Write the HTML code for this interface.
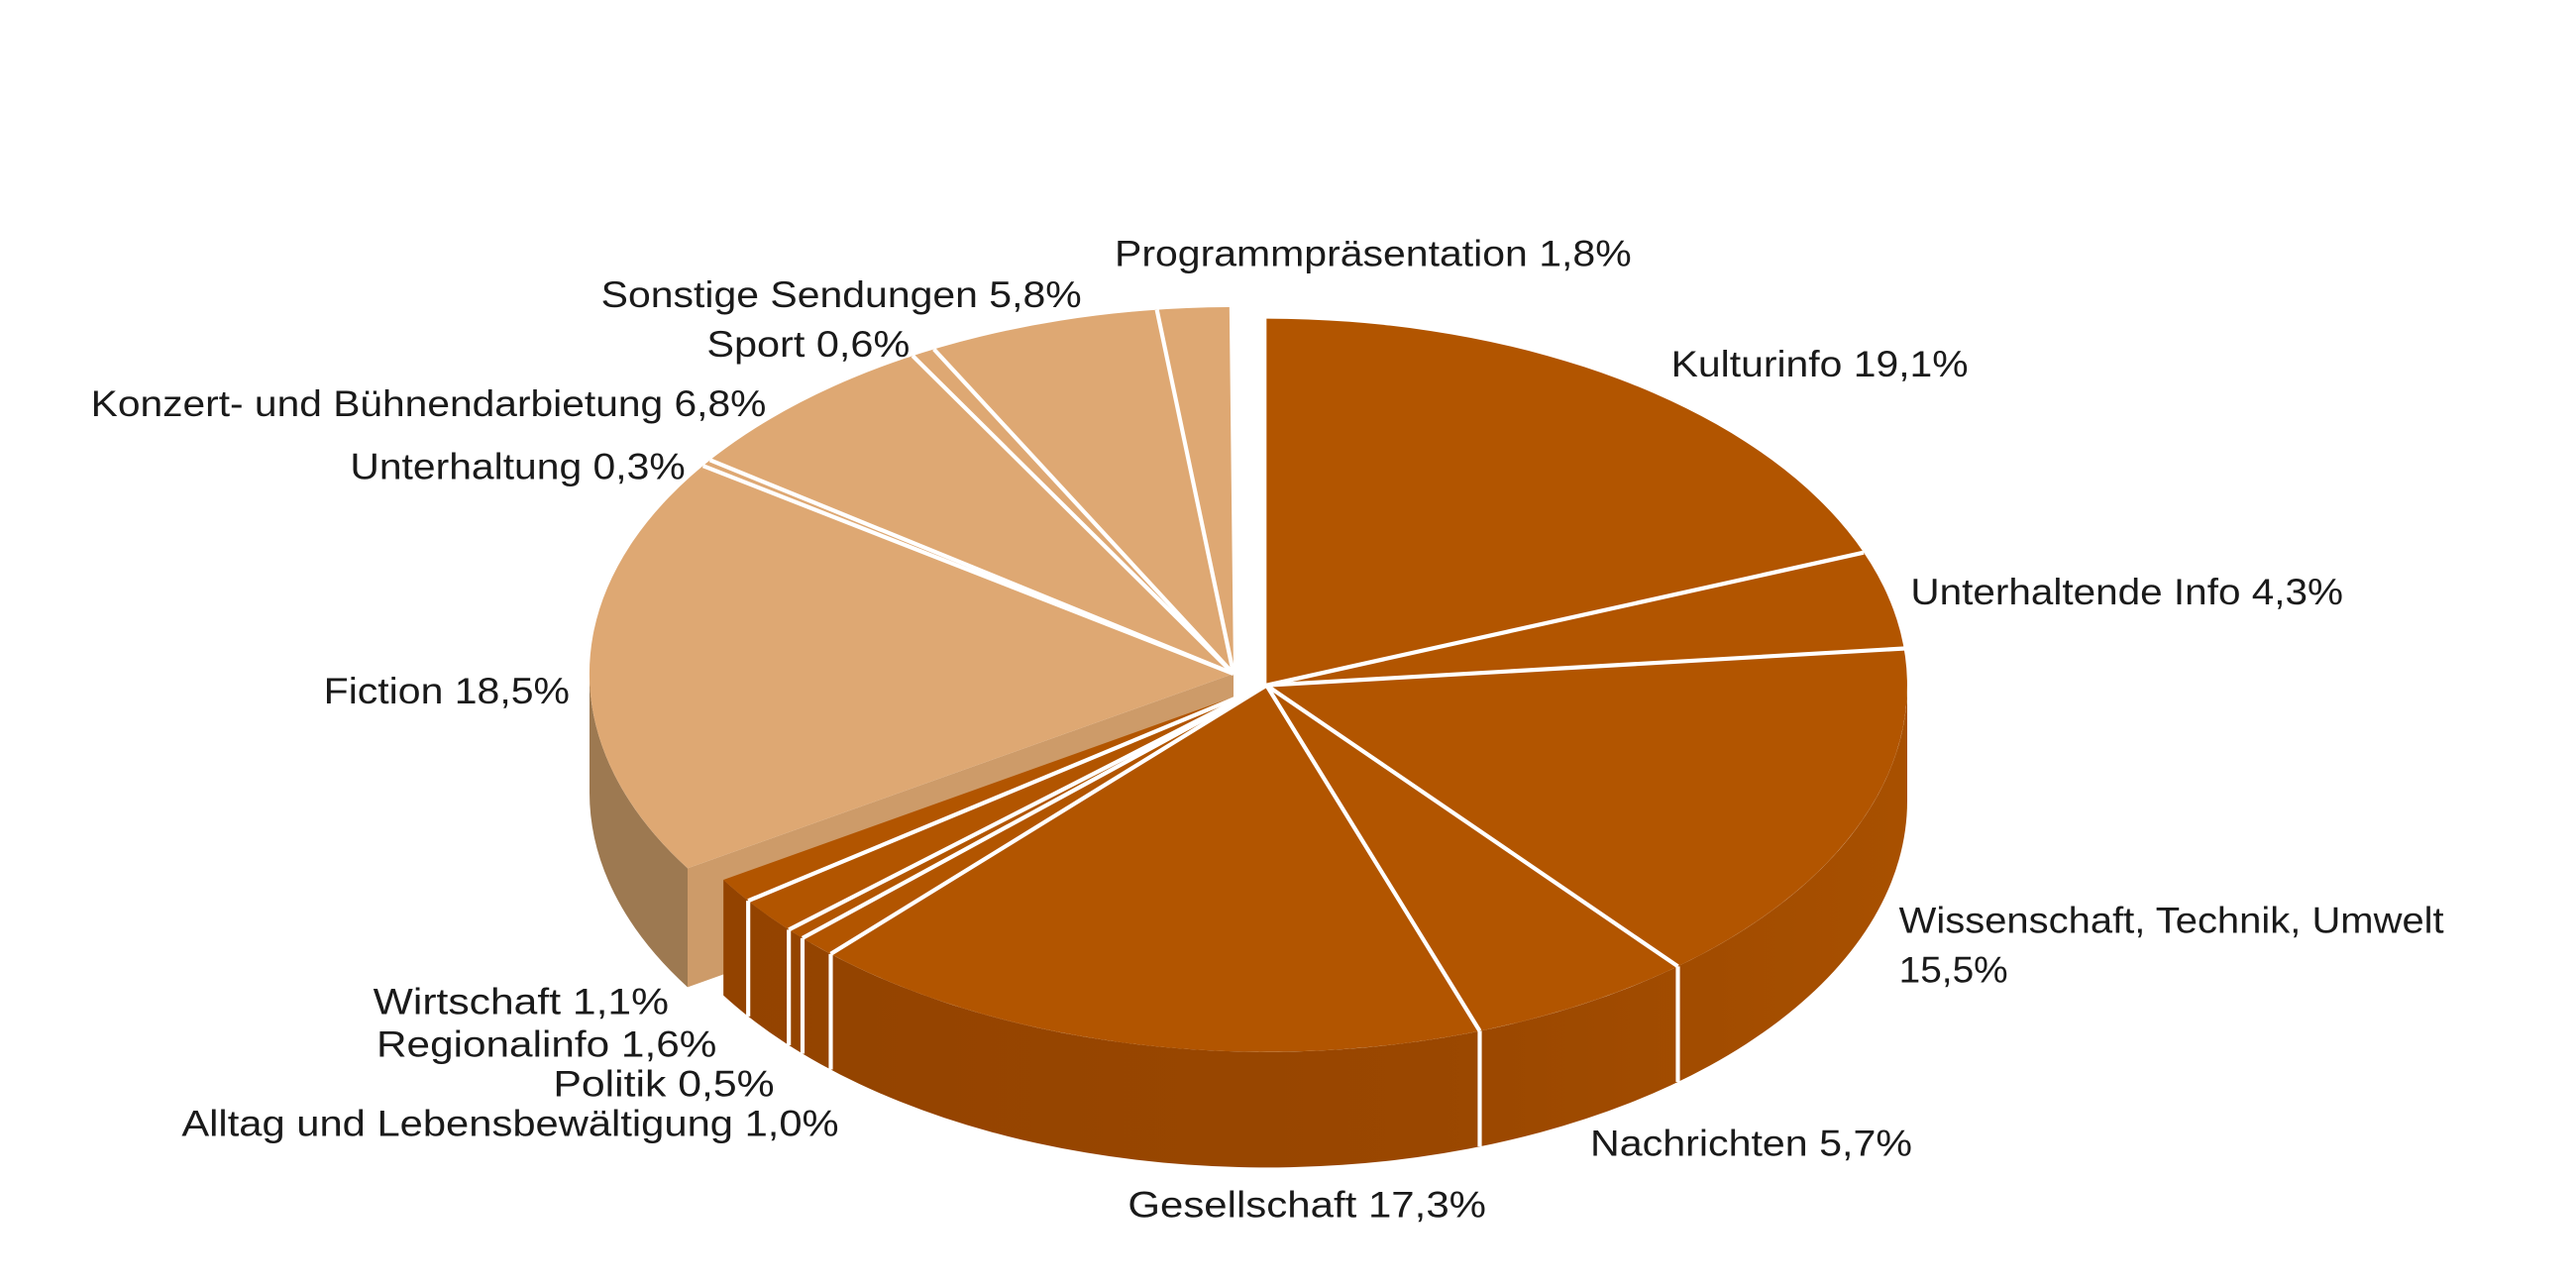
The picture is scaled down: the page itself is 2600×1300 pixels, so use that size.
<!DOCTYPE html>
<html><head><meta charset="utf-8"><style>
html,body{margin:0;padding:0;background:#fff;}
svg{display:block;}
text{font-family:"Liberation Sans",sans-serif;font-size:22px;fill:#1a1a1a;}
</style></head><body>
<svg width="2600" height="1300" viewBox="0 0 1560 780" xmlns="http://www.w3.org/2000/svg">
<defs>
<linearGradient id="bs" x1="0" x2="1" y1="0" y2="0">
<stop offset="0" stop-color="#934300"/><stop offset="0.6" stop-color="#9a4700"/><stop offset="1" stop-color="#a85000"/>
</linearGradient>
</defs>
<!-- light group -->
<path d="M747,408 L416.4,525.8 L416.4,597.8 L747,480 Z" fill="#cd9b69"/>
<path d="M416.4,525.8 A390,222 0 0 1 357,408 L357,480 A390,222 0 0 0 416.4,597.8 Z" fill="#9d7951"/>
<path d="M747,408 L416.4,525.8 A390,222 0 0 1 744.5,186 Z" fill="#dea873"/>
<g stroke="#fff" stroke-width="2.5">
<line x1="747" y1="408" x2="425.8" y2="282.1"/>
<line x1="747" y1="408" x2="430" y2="278.6"/>
<line x1="747" y1="408" x2="552.7" y2="215.5"/>
<line x1="747" y1="408" x2="565.6" y2="211.5"/>
<line x1="747" y1="408" x2="700.6" y2="187.6"/>
</g>
<!-- brown group -->
<path d="M1155,415 A388,222 0 0 1 438.1,532.8 L438.1,602.8 A388,222 0 0 0 1155,485 Z" fill="url(#bs)"/>
<path d="M767,415 L767,193 A388,222 0 1 1 438.1,532.8 Z" fill="#b25500"/>
<g stroke="#fff" stroke-width="2.5">
<line x1="767" y1="415" x2="1128.6" y2="334.6"/>
<line x1="767" y1="415" x2="1153.5" y2="392.7"/>
<line x1="767" y1="415" x2="1016.1" y2="585.2"/>
<line x1="767" y1="415" x2="896.1" y2="624.3"/>
<line x1="767" y1="415" x2="503.1" y2="577.7"/>
<line x1="767" y1="415" x2="486" y2="568.1"/>
<line x1="767" y1="415" x2="477.7" y2="563"/>
<line x1="767" y1="415" x2="453.1" y2="545.5"/>
<line x1="1016.1" y1="585.2" x2="1016.1" y2="655.2"/>
<line x1="896.1" y1="624.3" x2="896.1" y2="694.3"/>
<line x1="503.1" y1="577.7" x2="503.1" y2="647.7"/>
<line x1="486" y1="568.1" x2="486" y2="638.1"/>
<line x1="477.7" y1="563" x2="477.7" y2="633"/>
<line x1="453.1" y1="545.5" x2="453.1" y2="615.5"/>
</g>
<!-- labels -->
<text x="675" y="161" textLength="313" lengthAdjust="spacingAndGlyphs">Programmpräsentation  1,8%</text>
<text x="364" y="186" textLength="291" lengthAdjust="spacingAndGlyphs">Sonstige Sendungen  5,8%</text>
<text x="428" y="216" textLength="123" lengthAdjust="spacingAndGlyphs">Sport  0,6%</text>
<text x="55" y="252" textLength="409" lengthAdjust="spacingAndGlyphs">Konzert- und Bühnendarbietung  6,8%</text>
<text x="212" y="290" textLength="203" lengthAdjust="spacingAndGlyphs">Unterhaltung  0,3%</text>
<text x="196" y="426" textLength="149" lengthAdjust="spacingAndGlyphs">Fiction  18,5%</text>
<text x="1012" y="228" textLength="180" lengthAdjust="spacingAndGlyphs">Kulturinfo  19,1%</text>
<text x="1157" y="366" textLength="262" lengthAdjust="spacingAndGlyphs">Unterhaltende Info  4,3%</text>
<text x="1150" y="565" textLength="330" lengthAdjust="spacingAndGlyphs">Wissenschaft, Technik, Umwelt</text>
<text x="1150" y="595" textLength="66" lengthAdjust="spacingAndGlyphs">15,5%</text>
<text x="963" y="700" textLength="195" lengthAdjust="spacingAndGlyphs">Nachrichten  5,7%</text>
<text x="683" y="737" textLength="217" lengthAdjust="spacingAndGlyphs">Gesellschaft   17,3%</text>
<text x="226" y="614" textLength="179" lengthAdjust="spacingAndGlyphs">Wirtschaft   1,1%</text>
<text x="228" y="640" textLength="206" lengthAdjust="spacingAndGlyphs">Regionalinfo   1,6%</text>
<text x="335" y="664" textLength="134" lengthAdjust="spacingAndGlyphs">Politik   0,5%</text>
<text x="110" y="688" textLength="398" lengthAdjust="spacingAndGlyphs">Alltag und Lebensbewältigung   1,0%</text>
</svg>
</body></html>
